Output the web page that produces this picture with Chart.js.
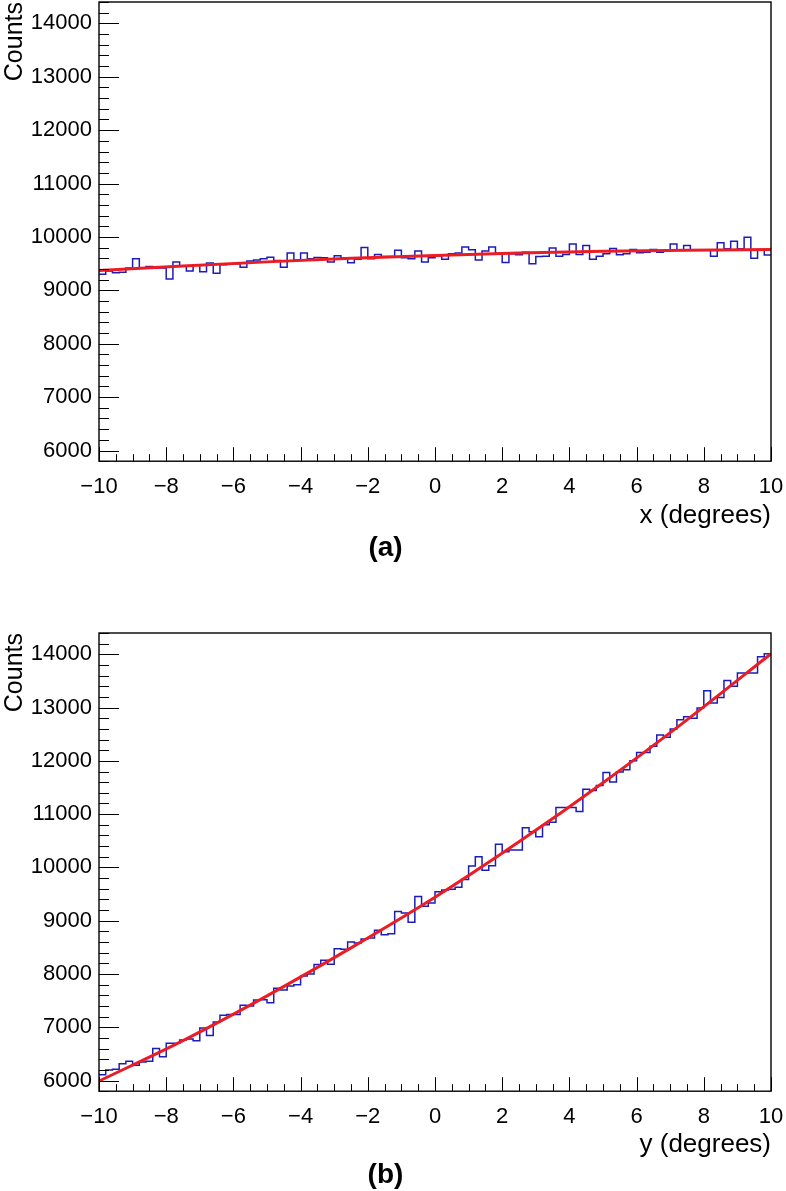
<!DOCTYPE html>
<html>
<head>
<meta charset="utf-8">
<title>Counts vs angle</title>
<script src="https://cdn.jsdelivr.net/npm/chart.js@4"></script>
<style>
  html, body { margin: 0; padding: 0; background: #fff; overflow: hidden; }
  .panel { position: absolute; left: 0; }
  #panel_a { top: 0px; }
  #panel_b { top: 614px; }
</style>
</head>
<body>
<div class="panel" id="panel_a"><canvas id="hist_a" width="786" height="575"></canvas></div>
<div class="panel" id="panel_b"><canvas id="hist_b" width="786" height="577"></canvas></div>
<script>
// binning: 100 bins from -10 to 10 degrees
var bin_low = -10;
var bin_width = 0.2;

// (a) counts per bin
var counts_a = [
  9300, 9360, 9330, 9340, 9420, 9590, 9415, 9445, 9420, 9420,
  9210, 9530, 9450, 9360, 9480, 9350, 9510, 9320, 9480, 9490,
  9500, 9430, 9550, 9570, 9590, 9620, 9560, 9430, 9700, 9570,
  9700, 9590, 9615, 9610, 9530, 9650, 9610, 9515, 9580, 9800,
  9590, 9670, 9635, 9635, 9750, 9610, 9590, 9735, 9530, 9610,
  9650, 9580, 9685, 9700, 9810, 9760, 9570, 9735, 9810, 9695,
  9520, 9685, 9665, 9715, 9500, 9635, 9640, 9795, 9640, 9670,
  9870, 9670, 9840, 9580, 9640, 9685, 9785, 9665, 9685, 9765,
  9705, 9715, 9765, 9715, 9740, 9870, 9760, 9840, 9760, 9760,
  9760, 9640, 9890, 9780, 9920, 9780, 9995, 9600, 9750, 9660
];

// (b) counts per bin
var counts_b = [
  6110, 6200, 6210, 6315, 6360, 6285, 6350, 6360, 6600, 6445,
  6700, 6700, 6760, 6780, 6745, 6985, 6845, 7100, 7225, 7240,
  7240, 7415, 7400, 7510, 7515, 7460, 7730, 7700, 7775, 7800,
  7960, 8000, 8180, 8260, 8185, 8475, 8465, 8600, 8580, 8655,
  8675, 8820, 8735, 8755, 9175, 9145, 8970, 9455, 9270, 9330,
  9545, 9575, 9590, 9630, 9775, 10025, 10200, 9945, 10030, 10435,
  10295, 10325, 10325, 10745, 10670, 10575, 10800, 10850, 11125, 11125,
  11125, 11050, 11465, 11445, 11540, 11780, 11605, 11790, 11835, 12000,
  12155, 12155, 12275, 12485, 12445, 12600, 12770, 12830, 12800, 12990,
  13315, 13085, 13190, 13510, 13400, 13650, 13650, 13650, 13955, 14010
];

// fitted curves, read at a few points
var fit_x = [-10, -7.5, -5, -2.5, 0, 2.5, 5, 7.5, 10];
var fit_a = [9370, 9458, 9533, 9599, 9653, 9697, 9730, 9753, 9766];
var fit_b = [5990, 6750, 7590, 8490, 9440, 10480, 11590, 12770, 14010];

// axes
var x_ticks = [-10, -8, -6, -4, -2, 0, 2, 4, 6, 8, 10];
var y_ticks = [6000, 7000, 8000, 9000, 10000, 11000, 12000, 13000, 14000];
var y_min = 5800;
var y_max = 14400;

Chart.defaults.font.family = "'Liberation Sans', Arial, Helvetica, sans-serif";
Chart.defaults.color = "#000";

function step_points(counts) {
  var pts = [];
  for (var i = 0; i < counts.length; i++) {
    pts.push({ x: bin_low + i * bin_width, y: counts[i] });
  }
  // close the last bin at its upper edge
  pts.push({ x: bin_low + counts.length * bin_width, y: counts[counts.length - 1] });
  return pts;
}

function curve_points(xs, ys) {
  var pts = [];
  for (var i = 0; i < xs.length; i++) pts.push({ x: xs[i], y: ys[i] });
  return pts;
}

function minus_label(v) {
  return v < 0 ? "\u2212" + Math.abs(v) : String(v);
}

// ROOT style frame with ticks pointing inwards
var root_frame = {
  id: "root_frame",
  afterDraw: function (chart) {
    var c = chart.ctx;
    var a = chart.chartArea;
    var sx = chart.scales.x;
    var sy = chart.scales.y;
    c.save();
    c.strokeStyle = "#000";
    c.lineWidth = 1;
    c.beginPath();
    for (var v = -10; v <= 10.001; v += 0.5) {
      var px = Math.round(sx.getPixelForValue(v)) + 0.5;
      var len = Math.abs(v % 2) < 0.01 ? 14 : 7;
      c.moveTo(px, a.bottom);
      c.lineTo(px, a.bottom - len);
    }
    for (var w = y_min; w <= y_max; w += 200) {
      var py = Math.round(sy.getPixelForValue(w)) + 0.5;
      var len2 = w % 1000 == 0 ? 20 : 10;
      c.moveTo(a.left, py);
      c.lineTo(a.left + len2, py);
    }
    c.stroke();
    c.lineWidth = 1.4;
    c.strokeRect(a.left, a.top, a.right - a.left, a.bottom - a.top);
    c.restore();
  }
};

function make_hist(id, counts, fit, x_title, tag, pad, x_height, tag_pad) {
  var ctx = document.getElementById(id).getContext("2d");
  return new Chart(ctx, {
    type: "line",
    data: {
      datasets: [
        {
          data: curve_points(fit_x, fit),
          borderColor: "#ec1c24",
          borderWidth: 3,
          pointRadius: 0,
          tension: 0.4,
          cubicInterpolationMode: "monotone"
        },
        {
          data: step_points(counts),
          borderColor: "#1c1cb8",
          borderWidth: 1.5,
          pointRadius: 0,
          stepped: true
        }
      ]
    },
    options: {
      responsive: false,
      animation: false,
      events: [],
      layout: {
        autoPadding: false,
        padding: pad
      },
      scales: {
        x: {
          type: "linear",
          min: -10,
          max: 10,
          grid: { display: false, drawTicks: false },
          border: { display: false },
          afterBuildTicks: function (s) {
            s.ticks = x_ticks.map(function (v) { return { value: v }; });
          },
          afterFit: function (s) {
            s.height = x_height;
            s.paddingLeft = 0;
            s.paddingRight = 0;
          },
          ticks: {
            autoSkip: false,
            maxRotation: 0,
            padding: 13,
            font: { size: 22 },
            callback: minus_label
          },
          title: {
            display: true,
            text: x_title,
            align: "end",
            padding: 0,
            font: { size: 26 }
          }
        },
        y: {
          type: "linear",
          min: y_min,
          max: y_max,
          grid: { display: false, drawTicks: false },
          border: { display: false },
          afterBuildTicks: function (s) {
            s.ticks = y_ticks.map(function (v) { return { value: v }; });
          },
          afterFit: function (s) {
            s.width = 99;
            s.paddingTop = 0;
            s.paddingBottom = 0;
          },
          ticks: {
            padding: 7,
            font: { size: 22 },
            callback: function (v) { return String(v); }
          },
          title: {
            display: true,
            text: "Counts",
            align: "end",
            padding: 0,
            font: { size: 25 }
          }
        }
      },
      plugins: {
        legend: { display: false },
        tooltip: { enabled: false },
        title: {
          display: true,
          text: tag,
          position: "bottom",
          padding: { top: tag_pad, bottom: 0 },
          font: { size: 28, weight: "bold", lineHeight: 1.1 }
        }
      }
    },
    plugins: [root_frame]
  });
}

make_hist("hist_a", counts_a, fit_a, "x (degrees)", "(a)",
  { left: 0, right: 15, top: 2, bottom: 11 }, 70, 2);
make_hist("hist_b", counts_b, fit_b, "y (degrees)", "(b)",
  { left: 0, right: 15, top: 19, bottom: 0 }, 69, 0);
</script>
</body>
</html>
